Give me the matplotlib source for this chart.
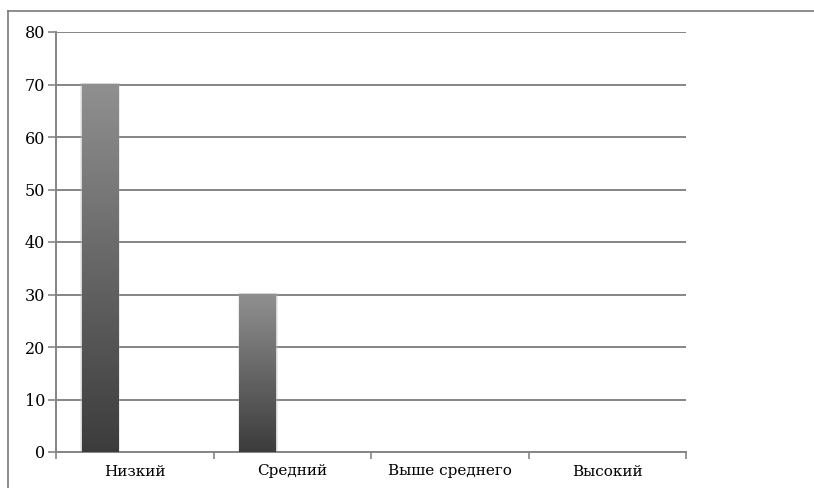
import matplotlib.pyplot as plt
import matplotlib.patches as mpatches
from matplotlib.lines import Line2D
import numpy as np

categories = ['Низкий', 'Средний', 'Выше среднего', 'Высокий']
values = [70, 30, 0, 0]
yticks = [0, 10, 20, 30, 40, 50, 60, 70, 80]

plt.rcParams['font.family'] = ['DejaVu Serif']

fig = plt.figure(figsize=(8.14, 4.88), dpi=100)
ax = fig.add_axes([56 / 814, 36 / 488, 630 / 814, 420 / 488])

# frame around the chart area
fig.add_artist(Line2D([8 / 814, 8 / 814], [0, 1 - 11 / 488], transform=fig.transFigure,
                      color='#7a7a7a', lw=1.2))
fig.add_artist(Line2D([8 / 814, 1], [1 - 11 / 488, 1 - 11 / 488], transform=fig.transFigure,
                      color='#7a7a7a', lw=1.2))

x = np.arange(len(categories))
offset = -0.22
width = 0.23

# gradient for the bars, light at the top and dark at the base
grad = np.linspace(0, 1, 256).reshape(-1, 1)
top = np.array([0x90, 0x90, 0x90]) / 255
bottom = np.array([0x3c, 0x3c, 0x3c]) / 255
img = bottom + (top - bottom) * grad[..., None]

for xi, v in zip(x, values):
    if v <= 0:
        continue
    left = xi + offset - width / 2
    # soft shadow along the bar sides
    for k, a in [(0.012, 0.25), (0.006, 0.35)]:
        ax.add_patch(mpatches.Rectangle((left - k, 0), width + 2 * k, v + 0.3,
                                        facecolor='#b0b0b0', edgecolor='none',
                                        alpha=a, zorder=2))
    ax.imshow(img, extent=[left, left + width, 0, v], origin='lower',
              aspect='auto', zorder=3, interpolation='bilinear')

ax.set_xlim(-0.5, len(categories) - 0.5)
ax.set_ylim(0, 80)

ax.set_yticks(yticks)
ax.yaxis.grid(True, color='#858585', lw=1.4)
ax.set_axisbelow(True)

ax.set_xticks(np.arange(len(categories) + 1) - 0.5)
ax.set_xticklabels([])
ax.set_xticks(x, minor=True)
ax.set_xticklabels(categories, minor=True)
ax.tick_params(axis='x', which='major', length=5, color='#858585', width=1.2, direction='out')
ax.tick_params(axis='x', which='minor', length=0, pad=9, labelsize=11)
ax.tick_params(axis='y', length=6, color='#858585', width=1.2, direction='out', labelsize=11.5, pad=2)

for s in ['top', 'right']:
    ax.spines[s].set_visible(False)
for s in ['left', 'bottom']:
    ax.spines[s].set_color('#858585')
    ax.spines[s].set_linewidth(1.4)

fig.savefig('out.png', dpi=100)
